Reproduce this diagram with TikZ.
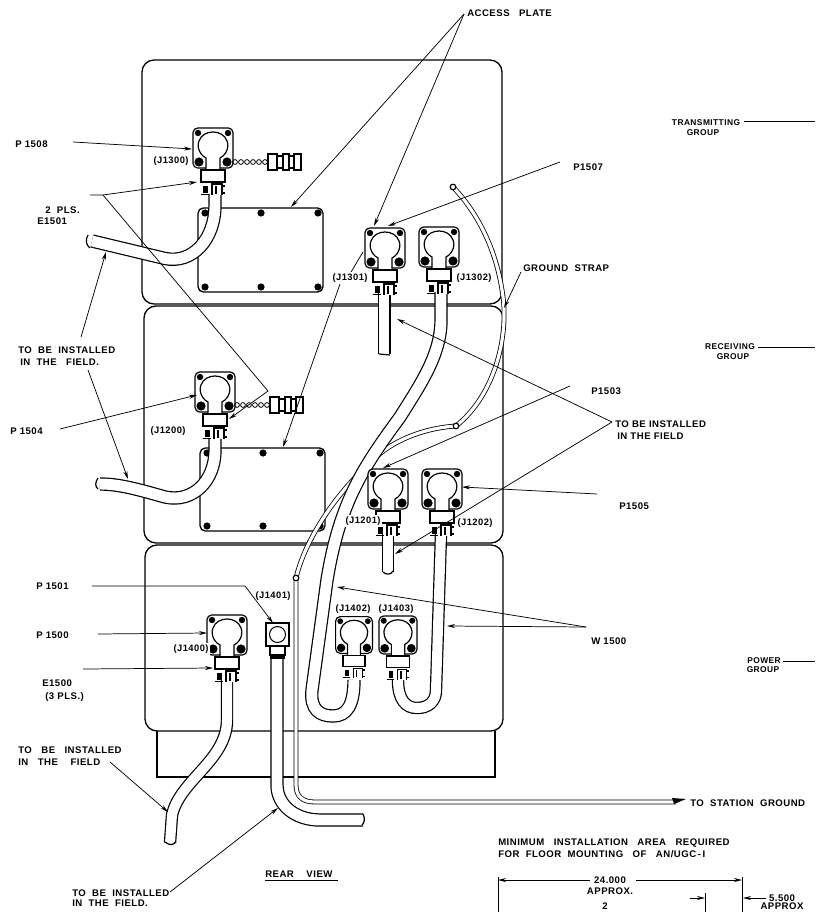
\documentclass[tikz,border=0pt]{standalone}
\usepackage{fontspec}
\setmainfont[LetterSpace=5]{Liberation Sans}
\usetikzlibrary{arrows.meta}
\tikzset{
  x=0.75pt,y=-0.75pt,
  panel/.style={line width=1pt,rounded corners=9pt},
  plate/.style={line width=1pt,rounded corners=4pt},
  cablepath/.style={line width=.9pt,double=white,double distance=8.2pt},
  strap/.style={line width=.6pt,double=white,double distance=2.4pt},
  lead/.style={line width=.55pt,-{Stealth[length=6pt,width=3pt]}},
  leadplain/.style={line width=.55pt},
  lbl/.style={font=\bfseries\fontsize{7.2}{8}\selectfont,inner sep=0pt,anchor=west},
  glbl/.style={font=\bfseries\fontsize{6.3}{7}\selectfont,inner sep=0pt,anchor=center},
  jlbl/.style={lbl,fill=white,inner sep=1pt,font=\bfseries\fontsize{7}{8}\selectfont},
  plug/.pic={
    \draw[line width=.9pt,rounded corners=3.5pt,fill=white] (-20,-20) rectangle (20,20);
    \fill (-15,-15) circle (3.2) (15,-15) circle (3.2) (-14,14) circle (4.6) (14,14) circle (4.6);
    \draw[line width=.9pt,fill=white] (-7,22) -- (-7,10) .. controls (-15,6) and (-16,-4) .. (-14,-7) .. controls (-10,-19) and (10,-19) .. (14,-7) .. controls (16,-4) and (15,6) .. (7,10) -- (7,22);
    \draw[line width=.9pt,fill=white] (-12,22) rectangle (12,34);
    \fill (-10,38) rectangle (-5,45);
    \draw[line width=1pt] (-12,46.5) -- (-4,46.5);
    \draw[line width=.8pt,fill=white] (-1,47) -- (-1,36) -- (9,36) -- (9,47);
    \draw[line width=1pt] (3,38) -- (3,46) (9,38) -- (12,38) (9,45) -- (12,45);
  },
  chainplug/.pic={
    \foreach \i in {0,6,...,30} \draw[line width=.6pt] (\i,0) circle (2.4);
    \draw[line width=.8pt,fill=white] (33,-8) rectangle (42,8);
    \draw[line width=.8pt,fill=white] (42,-6) rectangle (48,6);
    \draw[line width=.8pt,fill=white] (48,-8) rectangle (54,8);
    \draw[line width=.8pt,fill=white] (54,-6) rectangle (59,6);
    \draw[line width=.8pt,fill=white] (59,-8) rectangle (66,8);
  }
}
\begin{document}
\begin{tikzpicture}
\useasboundingbox (0,0) rectangle (815,912);
\clip (0,0) rectangle (815,912);
% panels
\draw[panel] (142,60) rectangle (502,304);
\draw[panel] (144,306) rectangle (503,543);
\draw[panel] (145,545) rectangle (503,731);
\draw[line width=1pt] (157,731) -- (157,777) -- (495,777) -- (495,731);
% access plates
\draw[plate] (198,208) rectangle (323,292);
\foreach \p in {(205,213),(261,213),(318,213),(205,287),(261,287),(318,287)} \fill \p circle (3.6);
\draw[plate] (200,448) rectangle (325,531);
\foreach \p in {(207,453),(263,453),(320,453),(207,526),(263,526),(320,526)} \fill \p circle (3.6);
% ground strap
\draw[strap] (296,578) .. controls (305,540) and (335,495) .. (368,465) .. controls (390,440) and (425,428) .. (456,426);
\draw[strap] (456,426) .. controls (495,395) and (510,335) .. (502,290) .. controls (495,245) and (475,210) .. (453,187);
\draw[strap] (296,580) -- (296,785) .. controls (296,797) and (303,802) .. (315,802) -- (676,802);
\fill (672,798) -- (686,799) -- (674,804) -- cycle;
\fill[white] (453,187) circle (2.8); \draw[line width=.9pt] (453,187) circle (2.8);
\fill[white] (456,426) circle (2.8); \draw[line width=.9pt] (456,426) circle (2.8);
\fill[white] (296,578) circle (2.8); \draw[line width=.9pt] (296,578) circle (2.8);
% cables
\draw[cablepath] (215,194) -- (215,205) .. controls (215,240) and (192,264) .. (165,258.5) -- (92,241);
\draw[cablepath] (215,438) -- (215,450) .. controls (215,482) and (192,503) .. (165,497) .. controls (140,490) and (120,484) .. (100,484);
\draw[cablepath,double distance=7.6pt] (384.4,292) -- (384.4,354);
\draw[cablepath,double distance=7.5pt] (388,534) -- (388,572);
\draw[cablepath] (441,292) -- (441,320) .. controls (441,355) and (420,385) .. (400,417) .. controls (365,465) and (340,500) .. (327,580) -- (312,690) .. controls (310,710) and (320,716) .. (333,716) .. controls (347,716) and (354,705) .. (354,680);
\draw[cablepath,double distance=7.5pt] (441,534) -- (436,690) .. controls (436,702) and (428,708) .. (417,708) .. controls (406,708) and (398,700) .. (398,680);
\draw[cablepath,double distance=7.5pt] (227,680) -- (227,720) .. controls (227,760) and (180,780) .. (172,815) -- (170,843);
\draw[cablepath] (277,655) -- (277,785) .. controls (277,805) and (295,820) .. (320,820) -- (363,820);
\draw[line width=.9pt] (88,235) .. controls (85,240) and (86,245) .. (90,248);
\draw[line width=.9pt] (98,478) .. controls (95,482) and (95,487) .. (98,489);
\draw[line width=.9pt] (379,354) -- (390,355);
\draw[line width=.9pt] (383,572) .. controls (386,575) and (391,575) .. (393,571);
\draw[line width=.9pt] (165,842) .. controls (170,846) and (174,845) .. (175,842);
\draw[line width=.9pt] (363,814) .. controls (365,818) and (365,822) .. (362,825);
% plugs
\pic at (213,148) {plug};
\pic at (215,392) {plug};
\pic at (385,248) {plug};
\pic at (439,247) {plug};
\pic at (388,489) {plug};
\pic at (442,489) {plug};
\pic[scale=.92] at (354,635) {plug};
\pic[scale=.95] at (398,635) {plug};
\pic at (227,635) {plug};
\pic at (235,162) {chainplug};
\pic at (237,405) {chainplug};
% J1401
\draw[line width=.9pt,fill=white] (266,623) rectangle (289,646);
\draw[line width=.8pt] (277.5,634.5) circle (8);
\draw[line width=.9pt,fill=white] (270,646) rectangle (285,655);
\fill (270,655) rectangle (285,659);
% labels
\node[lbl] (access) at (467,13) {ACCESS~~~PLATE};
\node[lbl] (p1508) at (15,144) {P 1508};
\node[lbl] (pls) at (45,210) {2~~PLS.};
\node[lbl] (e1501) at (37,221) {E1501};
\node[lbl] (tb1) at (18,350) {TO~~BE~~INSTALLED};
\node[lbl] (tb1b) at (20,362) {IN~~THE~~~FIELD.};
\node[lbl] (p1504) at (10,431) {P 1504};
\node[lbl] (p1501) at (36,586) {P 1501};
\node[lbl] (p1500) at (36,635) {P 1500};
\node[lbl] (e1500) at (42,683) {E1500};
\node[lbl] (pl3) at (45,697) {(3 PLS.)};
\node[lbl] (tb2) at (18,750) {TO~~~BE~~~INSTALLED};
\node[lbl] (tb2b) at (18,762) {IN~~~THE~~~~FIELD};
\node[lbl] (tb3) at (72,893) {TO~~BE~~INSTALLED};
\node[lbl] (tb3b) at (72,903) {IN~~THE~~FIELD.};
\node[lbl] (rear) at (265,874) {REAR~~~~VIEW};
\draw[line width=.8pt] (rear.south west)++(0,3) -- ++(73,0);
\node[lbl] (p1507) at (573,167) {P1507};
\node[lbl] (gs) at (523,268) {GROUND~~STRAP};
\node[lbl] (p1503) at (591,391) {P1503};
\node[lbl] (tb4) at (615,424) {TO BE INSTALLED};
\node[lbl] (tb4b) at (617,436) {IN THE FIELD};
\node[lbl] (p1505) at (619,506) {P1505};
\node[lbl] (w1500) at (591,641) {W 1500};
\node[glbl] (tx) at (706,123) {TRANSMITTING};
\node[glbl] (tx2) at (703,133) {GROUP};
\node[glbl] (rx) at (730,347) {RECEIVING};
\node[glbl] (rx2) at (733,357) {GROUP};
\node[glbl] (pw) at (764,661) {POWER};
\node[glbl] (pw2) at (763,670) {GROUP};
\node[lbl] (stn) at (690,803) {TO~~STATION~~GROUND};
\node[lbl] (min1) at (498,843) {MINIMUM~~~INSTALLATION~~~AREA~~~REQUIRED};
\node[lbl] (min2) at (498,854) {FOR~~FLOOR~~MOUNTING~~~OF~~~AN/UGC\,-\,I};
\node[lbl,anchor=center] (d24) at (610,880) {24.000};
\node[lbl,anchor=center] (d24b) at (610,891) {APPROX.};
\node[lbl,anchor=center] (d55) at (782,898) {5.500};
\node[lbl,anchor=center] (d55b) at (782,906.5) {APPROX};
\node[lbl,anchor=center] (two) at (605,906) {2};
% J labels
\node[jlbl] (j1300) at (152,161) {(J1300)};
\node[jlbl] (j1301) at (331,278) {(J1301)};
\node[jlbl] (j1302) at (455,278) {(J1302)};
\node[jlbl] (j1200) at (149,431) {(J1200)};
\node[jlbl] (j1201) at (344,521) {(J1201)};
\node[jlbl] (j1202) at (456,523) {(J1202)};
\node[jlbl] (j1400) at (172,649) {(J1400)};
\node[jlbl] (j1401) at (254,596) {(J1401)};
\node[jlbl] (j1402) at (334,609) {(J1402)};
\node[jlbl] (j1403) at (377,609) {(J1403)};
% leader ends
\coordinate (a0) at (464,14);
\coordinate (a1) at (291,207);
\coordinate (a2) at (374,226);
\coordinate (a3) at (363,252);
\coordinate (a5) at (283,447);
\draw[lead] (a0) -- (a1);
\draw[lead] (a0) -- (a2);
\draw[leadplain] (a3) -- (j1301.north -| 351,271);
\draw[lead] (j1301.south -| 340,285) -- (a5);
\coordinate (b1) at (73,142); \coordinate (b2) at (192,149);
\draw[lead] (b1) -- (b2);
\coordinate (c0) at (90,195); \coordinate (c1) at (103,195); \coordinate (c2) at (197,182);
\coordinate (c3) at (268,391); \coordinate (c4) at (229,419);
\draw[lead] (c0) -- (c1) -- (c2);
\draw[lead] (c1) -- (c3) -- (c4);
\coordinate (d1) at (81,337); \coordinate (d2) at (106,252); \coordinate (d3) at (88,370); \coordinate (d4) at (128,479);
\draw[lead] (d1) -- (d2);
\draw[lead] (d3) -- (d4);
\coordinate (e1) at (60,429); \coordinate (e2) at (197,395);
\draw[lead] (e1) -- (e2);
\coordinate (f1) at (92,586); \coordinate (f2) at (245,586); \coordinate (f3) at (273,623);
\draw[lead] (f1) -- (f2) -- (f3);
\coordinate (g1) at (98,634); \coordinate (g2) at (207,633);
\draw[lead] (g1) -- (g2);
\coordinate (h1) at (83,669); \coordinate (h2) at (213,668);
\draw[lead] (h1) -- (h2);
\coordinate (i1) at (110,762); \coordinate (i2) at (168,812);
\draw[lead] (i1) -- (i2);
\coordinate (k1) at (170,892); \coordinate (k2) at (278,808);
\draw[lead] (k1) -- (k2);
\coordinate (l1) at (560,162); \coordinate (l2) at (388,226);
\draw[lead] (l1) -- (l2);
\coordinate (m1) at (521,272); \coordinate (m2) at (504,308);
\draw[lead] (m1) -- (m2);
\coordinate (n1) at (570,386); \coordinate (n2) at (383,468);
\draw[lead] (n1) -- (n2);
\coordinate (o0) at (612,422); \coordinate (o1) at (397,319); \coordinate (o2) at (395,554);
\draw[lead] (o0) -- (o1);
\draw[lead] (o0) -- (o2);
\coordinate (q1) at (597,494); \coordinate (q2) at (462,487);
\draw[lead] (q1) -- (q2);
\coordinate (r0) at (586,627); \coordinate (r1) at (337,587); \coordinate (r2) at (447,626);
\draw[lead] (r0) -- (r1);
\draw[lead] (r0) -- (r2);
% group ticks
\coordinate (s1) at (815,121); \coordinate (s2) at (815,347); \coordinate (s3) at (815,661);
\draw[leadplain] (tx.east)++(4,-2) -- (s1);
\draw[leadplain] (rx.east)++(3,0) -- (s2);
\draw[leadplain] (pw.east)++(2,0) -- (s3);
% dimensions
\coordinate (u1) at (498,880); \coordinate (u2) at (742,880);
\draw[line width=.7pt] (498,877) -- (498,912) (742,877) -- (742,912) (705,893) -- (705,912);
\draw[lead] (d24.west |- u1)++(-4,0) -- (u1);
\draw[lead] (d24.east |- u2)++(10,0) -- (u2);
\coordinate (v1) at (690,898); \coordinate (v2) at (705,898); \coordinate (v3) at (766,898); \coordinate (v4) at (743,898);
\draw[lead] (v1) -- (v2);
\draw[lead] (v3) -- (v4);
\end{tikzpicture}
\end{document}
